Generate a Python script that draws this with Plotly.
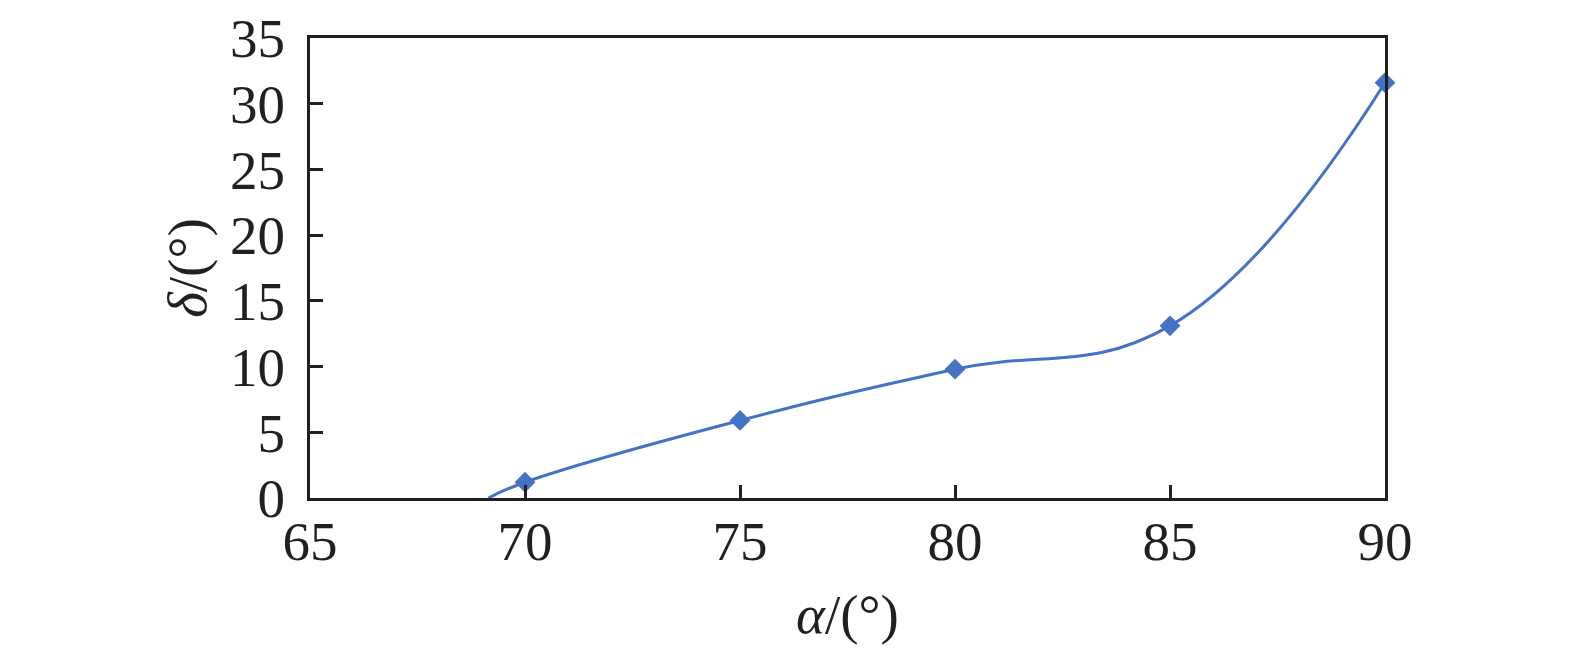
import plotly.graph_objects as go

# measured points (alpha in degrees, delta in degrees)
alpha = [70, 75, 80, 85, 90]
delta = [1.2, 5.9, 9.8, 13.1, 31.6]

# where the smoothed curve meets the x axis
alpha_start = [69.15]
delta_start = [0]

x_ticks = [65, 70, 75, 80, 85, 90]
y_ticks = [0, 5, 10, 15, 20, 25, 30, 35]

blue = "#4472C4"
ink = "#231F20"
serif = "Times New Roman, Liberation Serif, serif"

fig = go.Figure()
# smoothed line
fig.add_trace(go.Scatter(
    x=alpha_start + alpha, y=delta_start + delta,
    mode="lines",
    line=dict(color=blue, width=3, shape="spline", smoothing=1.2),
    hoverinfo="skip", showlegend=False))
# markers
fig.add_trace(go.Scatter(
    x=alpha, y=delta, mode="markers",
    marker=dict(symbol="diamond", size=16, color=blue),
    cliponaxis=False, showlegend=False))

axis_common = dict(
    showline=True, linecolor=ink, linewidth=3, mirror=True,
    ticks="inside", ticklen=13, tickwidth=2.5, tickcolor=ink,
    showgrid=False, zeroline=False, automargin=False,
    ticklabeloverflow="allow",
    tickfont=dict(family=serif, size=55, color=ink),
)

fig.update_xaxes(range=[65, 90], tickvals=x_ticks, ticklabelstandoff=-7,
                 title=dict(text="<i>α</i>/(°)", font=dict(family=serif, size=55, color=ink), standoff=24),
                 **axis_common)
fig.update_yaxes(range=[0, 35], tickvals=y_ticks, ticklabelstandoff=11,
                 title=dict(text="<i>δ</i>/(°)", font=dict(family=serif, size=55, color=ink), standoff=6),
                 **axis_common)

# the page body adds a small offset, so margins are trimmed by that much
fig.update_layout(
    width=1575, height=650,
    margin=dict(l=302, r=198, t=30, b=160),
    plot_bgcolor="white", paper_bgcolor="white",
    showlegend=False,
)

fig.write_html("out.html")
